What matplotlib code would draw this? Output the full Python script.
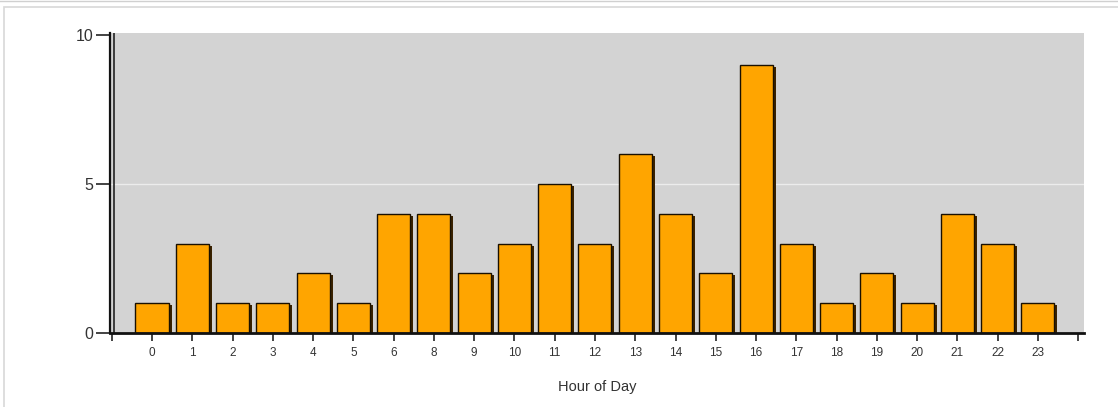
import matplotlib
matplotlib.use("Agg")
import matplotlib.pyplot as plt
from matplotlib.transforms import ScaledTranslation
from matplotlib.patches import Rectangle
from matplotlib.lines import Line2D

hours = ["0", "1", "2", "3", "4", "5", "6", "8", "9", "10", "11", "12",
         "13", "14", "15", "16", "17", "18", "19", "20", "21", "22", "23"]
counts = [1, 3, 1, 1, 2, 1, 4, 4, 2, 3, 5, 3, 6, 4, 2, 9, 3, 1, 2, 1, 4, 3, 1]
y_ticks = [0, 5, 10]

plt.rcParams['font.family'] = ['Liberation Sans', 'DejaVu Sans']

W, H = 1118, 407
fig = plt.figure(figsize=(W / 100, H / 100), dpi=100)

# outer frame
fig.add_artist(Line2D([0, 1], [1 - 1 / H, 1 - 1 / H], transform=fig.transFigure, color='#d0d0d0', lw=1))
fig.add_artist(Rectangle((4 / W, -0.01), 1.02, (H - 7) / H + 0.01, transform=fig.transFigure,
                         fill=False, edgecolor='#d8d8d8', lw=1.2))

left, right, top, bot = 110, 1084, 33, 333
ax = fig.add_axes([left / W, (H - bot) / H, (right - left) / W, (bot - top) / H])
ax.set_facecolor('#d3d3d3')

x = list(range(len(hours)))
slot = 40.27
ax.set_xlim((left - 152) / slot, (right - 152) / slot)
ax.set_ylim(0, 10.07)

# white gridline
ax.axhline(5, color='#ececec', lw=1, zorder=1)

# shadows
shadow_tr = ax.transData + ScaledTranslation(3 / 100, -2 / 100, fig.dpi_scale_trans)
ax.bar(x, counts, width=0.82, color='#3a2200', transform=shadow_tr, zorder=2)
ax.bar(x, counts, width=0.82, color='#FFA500', edgecolor='#1a1000', lw=1.0, zorder=3)

# second line of the y-axis wall
ax.axvline((114 - 152) / slot, color='#222222', lw=1.2, zorder=4)

for s in ['top', 'right']:
    ax.spines[s].set_visible(False)
ax.spines['left'].set_color('#111111')
ax.spines['left'].set_linewidth(1.6)
ax.spines['bottom'].set_color('#111111')
ax.spines['bottom'].set_linewidth(2)
ax.spines['bottom'].set_zorder(5)

ax.set_xticks([-1] + x + [len(hours)])
ax.set_xticklabels([''] + hours + [''])
ax.tick_params(axis='x', length=6, width=1.2, color='#222222', labelsize=8.5, labelcolor='#333333', pad=4)
ax.set_yticks(y_ticks)
ax.tick_params(axis='y', length=10, width=1.2, color='#222222', labelsize=11.5, labelcolor='#333333', pad=2)

ax.set_xlabel('Hour of Day', fontsize=10.5, color='#333333', labelpad=15)

fig.savefig('out.png', dpi=100)
